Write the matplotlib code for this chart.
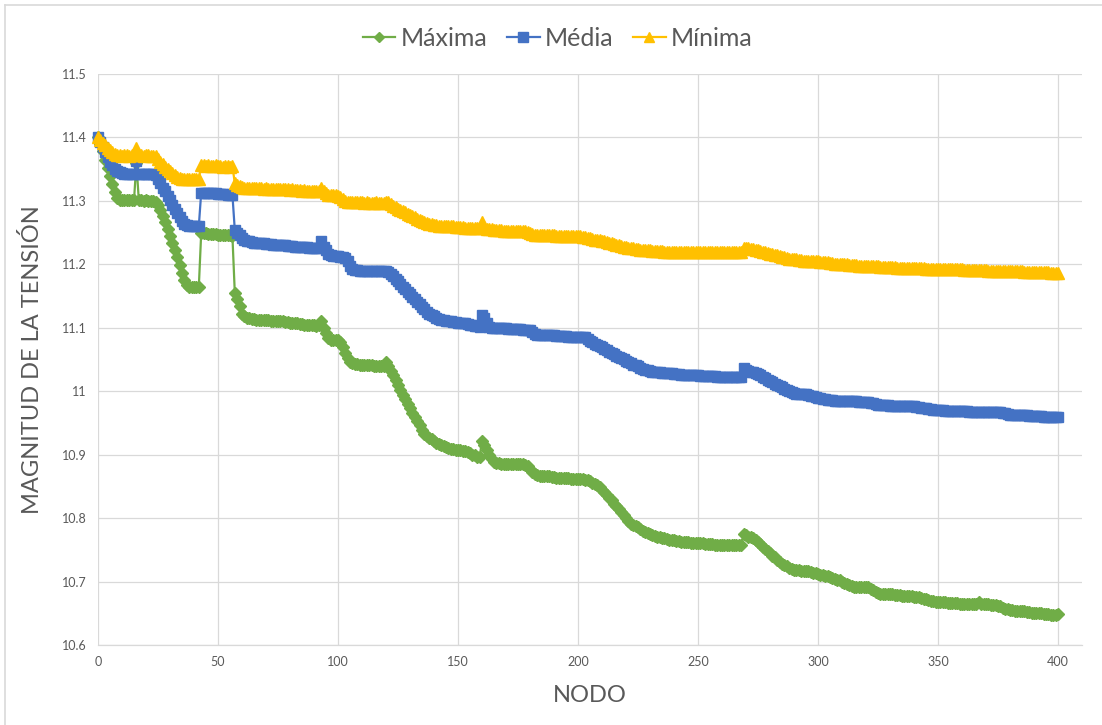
import matplotlib
matplotlib.use("Agg")
import matplotlib.pyplot as plt
from matplotlib.lines import Line2D

# ---------------- data (one value per node 0..400) -------------
nodes = list(range(0, 401))

minima = [
    11.400, 11.396, 11.392, 11.388, 11.384, 11.380, 11.377, 11.374, 11.372, 11.372,
    11.371, 11.372, 11.372, 11.371, 11.372, 11.372, 11.383, 11.372, 11.372, 11.371,
    11.372, 11.372, 11.371, 11.371, 11.370, 11.366, 11.362, 11.358, 11.354, 11.350,
    11.347, 11.344, 11.341, 11.338, 11.336, 11.335, 11.335, 11.334, 11.335, 11.335,
    11.334, 11.335, 11.335, 11.356, 11.356, 11.355, 11.356, 11.355, 11.355, 11.356,
    11.355, 11.355, 11.354, 11.355, 11.355, 11.354, 11.355, 11.328, 11.325, 11.323,
    11.322, 11.321, 11.321, 11.321, 11.320, 11.321, 11.320, 11.320, 11.320, 11.319,
    11.320, 11.319, 11.319, 11.319, 11.318, 11.319, 11.318, 11.318, 11.318, 11.318,
    11.317, 11.318, 11.317, 11.317, 11.317, 11.316, 11.317, 11.316, 11.316, 11.316,
    11.316, 11.315, 11.316, 11.320, 11.315, 11.312, 11.310, 11.309, 11.309, 11.309,
    11.308, 11.306, 11.303, 11.300, 11.299, 11.299, 11.298, 11.299, 11.298, 11.298,
    11.298, 11.297, 11.298, 11.297, 11.297, 11.297, 11.298, 11.297, 11.297, 11.297,
    11.298, 11.299, 11.295, 11.292, 11.290, 11.288, 11.286, 11.284, 11.282, 11.280,
    11.278, 11.276, 11.274, 11.272, 11.270, 11.268, 11.266, 11.265, 11.264, 11.263,
    11.262, 11.262, 11.261, 11.261, 11.261, 11.260, 11.260, 11.260, 11.260, 11.259,
    11.259, 11.259, 11.259, 11.258, 11.258, 11.258, 11.258, 11.258, 11.257, 11.257,
    11.266, 11.258, 11.256, 11.255, 11.255, 11.254, 11.254, 11.254, 11.254, 11.253,
    11.253, 11.253, 11.253, 11.253, 11.253, 11.252, 11.252, 11.252, 11.252, 11.251,
    11.250, 11.248, 11.247, 11.247, 11.247, 11.246, 11.246, 11.246, 11.246, 11.246,
    11.246, 11.245, 11.245, 11.245, 11.245, 11.245, 11.245, 11.245, 11.244, 11.244,
    11.244, 11.244, 11.243, 11.243, 11.242, 11.241, 11.240, 11.239, 11.238, 11.238,
    11.237, 11.236, 11.235, 11.234, 11.233, 11.232, 11.231, 11.230, 11.229, 11.228,
    11.227, 11.226, 11.226, 11.225, 11.224, 11.224, 11.223, 11.223, 11.222, 11.222,
    11.222, 11.221, 11.221, 11.221, 11.221, 11.221, 11.220, 11.220, 11.220, 11.220,
    11.220, 11.220, 11.220, 11.220, 11.220, 11.220, 11.219, 11.220, 11.219, 11.219,
    11.219, 11.219, 11.219, 11.219, 11.219, 11.219, 11.219, 11.219, 11.219, 11.219,
    11.219, 11.219, 11.219, 11.219, 11.219, 11.219, 11.219, 11.219, 11.219, 11.226,
    11.225, 11.225, 11.224, 11.224, 11.223, 11.222, 11.221, 11.220, 11.219, 11.218,
    11.217, 11.216, 11.215, 11.214, 11.213, 11.212, 11.211, 11.210, 11.209, 11.209,
    11.208, 11.208, 11.207, 11.207, 11.206, 11.206, 11.206, 11.205, 11.205, 11.205,
    11.205, 11.204, 11.204, 11.203, 11.203, 11.202, 11.202, 11.201, 11.201, 11.201,
    11.200, 11.200, 11.200, 11.199, 11.199, 11.199, 11.199, 11.198, 11.198, 11.198,
    11.198, 11.198, 11.197, 11.197, 11.197, 11.197, 11.196, 11.196, 11.196, 11.196,
    11.196, 11.196, 11.196, 11.195, 11.195, 11.195, 11.195, 11.195, 11.195, 11.194,
    11.194, 11.194, 11.194, 11.194, 11.194, 11.193, 11.193, 11.193, 11.193, 11.193,
    11.193, 11.193, 11.192, 11.192, 11.192, 11.192, 11.192, 11.192, 11.192, 11.192,
    11.192, 11.191, 11.191, 11.191, 11.191, 11.191, 11.191, 11.191, 11.191, 11.191,
    11.191, 11.190, 11.190, 11.190, 11.190, 11.190, 11.190, 11.190, 11.189, 11.189,
    11.189, 11.189, 11.189, 11.189, 11.189, 11.189, 11.188, 11.188, 11.188, 11.188,
    11.188, 11.188, 11.188, 11.188, 11.188, 11.188, 11.188, 11.187, 11.187, 11.187,
    11.187,
]

media = [
    11.400, 11.393, 11.385, 11.377, 11.369, 11.362, 11.356, 11.351, 11.347, 11.345,
    11.344, 11.343, 11.343, 11.343, 11.342, 11.343, 11.363, 11.343, 11.343, 11.342,
    11.343, 11.342, 11.342, 11.342, 11.341, 11.335, 11.328, 11.321, 11.315, 11.308,
    11.301, 11.294, 11.288, 11.281, 11.275, 11.268, 11.263, 11.262, 11.261, 11.261,
    11.261, 11.260, 11.260, 11.313, 11.313, 11.312, 11.312, 11.312, 11.312, 11.312,
    11.311, 11.311, 11.311, 11.311, 11.310, 11.310, 11.310, 11.254, 11.250, 11.246,
    11.242, 11.239, 11.237, 11.236, 11.235, 11.234, 11.234, 11.233, 11.233, 11.233,
    11.232, 11.232, 11.232, 11.231, 11.231, 11.231, 11.230, 11.230, 11.230, 11.229,
    11.229, 11.229, 11.228, 11.228, 11.228, 11.227, 11.227, 11.227, 11.226, 11.226,
    11.226, 11.225, 11.226, 11.236, 11.228, 11.222, 11.217, 11.214, 11.213, 11.213,
    11.213, 11.212, 11.212, 11.210, 11.205, 11.198, 11.193, 11.191, 11.191, 11.190,
    11.190, 11.190, 11.190, 11.189, 11.189, 11.190, 11.189, 11.189, 11.189, 11.189,
    11.190, 11.188, 11.185, 11.181, 11.177, 11.173, 11.169, 11.165, 11.161, 11.157,
    11.153, 11.149, 11.145, 11.141, 11.137, 11.133, 11.129, 11.125, 11.122, 11.120,
    11.118, 11.116, 11.114, 11.113, 11.112, 11.111, 11.110, 11.110, 11.109, 11.109,
    11.108, 11.108, 11.107, 11.107, 11.106, 11.105, 11.104, 11.103, 11.103, 11.102,
    11.120, 11.115, 11.108, 11.102, 11.100, 11.100, 11.099, 11.099, 11.099, 11.099,
    11.099, 11.098, 11.098, 11.098, 11.098, 11.098, 11.098, 11.097, 11.097, 11.097,
    11.096, 11.093, 11.090, 11.089, 11.089, 11.089, 11.088, 11.088, 11.088, 11.088,
    11.088, 11.087, 11.087, 11.087, 11.087, 11.087, 11.086, 11.086, 11.086, 11.086,
    11.086, 11.086, 11.086, 11.085, 11.082, 11.079, 11.077, 11.075, 11.073, 11.071,
    11.069, 11.067, 11.065, 11.062, 11.060, 11.058, 11.056, 11.054, 11.052, 11.050,
    11.048, 11.046, 11.044, 11.042, 11.041, 11.039, 11.037, 11.035, 11.034, 11.033,
    11.032, 11.031, 11.031, 11.030, 11.030, 11.029, 11.029, 11.028, 11.028, 11.028,
    11.027, 11.027, 11.027, 11.026, 11.026, 11.026, 11.026, 11.025, 11.025, 11.025,
    11.025, 11.024, 11.024, 11.024, 11.024, 11.024, 11.024, 11.024, 11.023, 11.023,
    11.023, 11.023, 11.023, 11.023, 11.023, 11.023, 11.023, 11.023, 11.023, 11.036,
    11.033, 11.032, 11.031, 11.030, 11.029, 11.027, 11.025, 11.023, 11.021, 11.018,
    11.016, 11.014, 11.012, 11.010, 11.008, 11.006, 11.004, 11.002, 11.000, 10.998,
    10.997, 10.996, 10.996, 10.996, 10.995, 10.995, 10.994, 10.993, 10.992, 10.991,
    10.990, 10.989, 10.988, 10.987, 10.986, 10.986, 10.986, 10.985, 10.985, 10.985,
    10.984, 10.984, 10.984, 10.984, 10.984, 10.984, 10.984, 10.983, 10.983, 10.983,
    10.983, 10.983, 10.982, 10.981, 10.980, 10.979, 10.978, 10.978, 10.978, 10.978,
    10.977, 10.977, 10.977, 10.977, 10.977, 10.977, 10.976, 10.976, 10.976, 10.976,
    10.976, 10.975, 10.975, 10.974, 10.974, 10.973, 10.972, 10.972, 10.971, 10.971,
    10.970, 10.970, 10.970, 10.969, 10.969, 10.969, 10.969, 10.969, 10.969, 10.969,
    10.969, 10.969, 10.969, 10.968, 10.968, 10.968, 10.968, 10.968, 10.968, 10.968,
    10.968, 10.968, 10.968, 10.968, 10.968, 10.967, 10.967, 10.966, 10.965, 10.964,
    10.963, 10.963, 10.963, 10.962, 10.962, 10.962, 10.962, 10.962, 10.961, 10.961,
    10.961, 10.961, 10.961, 10.961, 10.960, 10.960, 10.960, 10.960, 10.960, 10.960,
    10.959,
]

maxima = [
    11.400, 11.390, 11.378, 11.365, 11.352, 11.339, 11.326, 11.314, 11.305, 11.302,
    11.302, 11.301, 11.301, 11.302, 11.301, 11.301, 11.360, 11.301, 11.301, 11.300,
    11.301, 11.300, 11.300, 11.300, 11.299, 11.294, 11.285, 11.276, 11.266, 11.256,
    11.245, 11.234, 11.223, 11.211, 11.199, 11.187, 11.175, 11.168, 11.165, 11.165,
    11.165, 11.164, 11.164, 11.249, 11.249, 11.249, 11.248, 11.248, 11.248, 11.248,
    11.247, 11.247, 11.247, 11.246, 11.246, 11.246, 11.245, 11.155, 11.145, 11.135,
    11.122, 11.118, 11.116, 11.115, 11.114, 11.114, 11.113, 11.113, 11.113, 11.112,
    11.112, 11.112, 11.111, 11.111, 11.111, 11.110, 11.110, 11.110, 11.109, 11.109,
    11.108, 11.108, 11.107, 11.107, 11.106, 11.106, 11.105, 11.105, 11.104, 11.104,
    11.104, 11.103, 11.104, 11.110, 11.100, 11.092, 11.084, 11.081, 11.081, 11.081,
    11.080, 11.078, 11.070, 11.060, 11.052, 11.046, 11.044, 11.043, 11.043, 11.042,
    11.042, 11.042, 11.041, 11.041, 11.041, 11.040, 11.040, 11.040, 11.040, 11.040,
    11.046, 11.040, 11.032, 11.025, 11.018, 11.010, 11.002, 10.994, 10.987, 10.980,
    10.973, 10.966, 10.960, 10.953, 10.946, 10.939, 10.933, 10.929, 10.926, 10.924,
    10.921, 10.919, 10.917, 10.915, 10.913, 10.912, 10.910, 10.909, 10.909, 10.908,
    10.908, 10.907, 10.906, 10.905, 10.904, 10.902, 10.900, 10.899, 10.897, 10.896,
    10.922, 10.916, 10.908, 10.900, 10.893, 10.889, 10.887, 10.887, 10.886, 10.886,
    10.886, 10.886, 10.886, 10.886, 10.886, 10.886, 10.886, 10.885, 10.884, 10.882,
    10.878, 10.873, 10.869, 10.868, 10.867, 10.867, 10.866, 10.866, 10.866, 10.865,
    10.865, 10.864, 10.864, 10.864, 10.863, 10.863, 10.863, 10.862, 10.862, 10.862,
    10.862, 10.861, 10.861, 10.860, 10.860, 10.858, 10.856, 10.854, 10.852, 10.849,
    10.845, 10.841, 10.836, 10.832, 10.828, 10.823, 10.819, 10.814, 10.810, 10.805,
    10.800, 10.795, 10.791, 10.789, 10.788, 10.786, 10.783, 10.780, 10.778, 10.776,
    10.775, 10.774, 10.772, 10.771, 10.770, 10.769, 10.768, 10.767, 10.766, 10.766,
    10.765, 10.764, 10.764, 10.763, 10.763, 10.762, 10.762, 10.761, 10.761, 10.761,
    10.760, 10.760, 10.760, 10.759, 10.759, 10.759, 10.759, 10.758, 10.758, 10.758,
    10.758, 10.758, 10.758, 10.757, 10.757, 10.757, 10.757, 10.757, 10.757, 10.775,
    10.773, 10.771, 10.770, 10.769, 10.766, 10.762, 10.759, 10.755, 10.752, 10.748,
    10.745, 10.741, 10.738, 10.734, 10.731, 10.728, 10.726, 10.724, 10.722, 10.720,
    10.719, 10.718, 10.718, 10.717, 10.717, 10.716, 10.716, 10.715, 10.714, 10.713,
    10.712, 10.711, 10.710, 10.709, 10.708, 10.707, 10.705, 10.704, 10.703, 10.702,
    10.700, 10.698, 10.696, 10.694, 10.693, 10.692, 10.692, 10.692, 10.692, 10.692,
    10.692, 10.691, 10.689, 10.686, 10.684, 10.682, 10.681, 10.681, 10.681, 10.680,
    10.680, 10.680, 10.679, 10.679, 10.679, 10.678, 10.678, 10.678, 10.677, 10.677,
    10.676, 10.676, 10.675, 10.674, 10.673, 10.672, 10.671, 10.670, 10.669, 10.668,
    10.668, 10.667, 10.667, 10.667, 10.666, 10.666, 10.666, 10.666, 10.666, 10.665,
    10.665, 10.665, 10.665, 10.665, 10.665, 10.665, 10.665, 10.667, 10.665, 10.664,
    10.664, 10.664, 10.663, 10.663, 10.663, 10.662, 10.661, 10.659, 10.657, 10.656,
    10.655, 10.655, 10.654, 10.654, 10.654, 10.653, 10.653, 10.652, 10.652, 10.651,
    10.651, 10.650, 10.650, 10.650, 10.649, 10.649, 10.649, 10.648, 10.648, 10.648,
    10.649,
]

series_names = ["Máxima", "Média", "Mínima"]
x_ticks = [0, 50, 100, 150, 200, 250, 300, 350, 400]
y_ticks = [10.6, 10.7, 10.8, 10.9, 11.0, 11.1, 11.2, 11.3, 11.4, 11.5]
y_tick_labels = ["10.6", "10.7", "10.8", "10.9", "11", "11.1", "11.2", "11.3", "11.4", "11.5"]
x_title = "NODO"
y_title = "MAGNITUD DE LA TENSIÓN"

# ---------------- styling ----------------
plt.rcParams["font.family"] = ["Lato", "DejaVu Sans"]
GREEN, BLUE, YELLOW = "#70AD47", "#4472C4", "#FFC000"
GRID = "#D9D9D9"
TXT = "#595959"

fig = plt.figure(figsize=(11.02, 7.25), dpi=100)
ax = fig.add_axes([98 / 1102, 1 - 645 / 725, (1082 - 98) / 1102, (645 - 74) / 725])

ax.plot(nodes, maxima, color=GREEN, lw=1.6, marker="D", ms=6.0, mec=GREEN, mfc=GREEN,
        label=series_names[0], clip_on=False, zorder=3)
ax.plot(nodes, media, color=BLUE, lw=1.6, marker="s", ms=7.5, mec=BLUE, mfc=BLUE,
        label=series_names[1], clip_on=False, zorder=4)
ax.plot(nodes, minima, color=YELLOW, lw=1.6, marker="^", ms=8.0, mec=YELLOW, mfc=YELLOW,
        label=series_names[2], clip_on=False, zorder=5)

ax.set_xlim(0, 410)
ax.set_ylim(10.6, 11.5)
ax.set_xticks(x_ticks)
ax.set_xticklabels([str(t) for t in x_ticks])
ax.set_yticks(y_ticks)
ax.set_yticklabels(y_tick_labels)
ax.tick_params(length=0, labelsize=9, colors=TXT, pad=8)
ax.grid(True, color=GRID, lw=0.9)
ax.set_axisbelow(True)
for s in ["top", "right", "left"]:
    ax.spines[s].set_visible(False)
ax.spines["bottom"].set_color(GRID)
ax.spines["bottom"].set_linewidth(0.9)

ax.set_xlabel(x_title, fontsize=17, color=TXT, labelpad=12)
ax.set_ylabel(y_title, fontsize=17, color=TXT, labelpad=14)

handles, labels = ax.get_legend_handles_labels()
fig.legend(handles, labels, loc="center", bbox_to_anchor=(0.506, 0.947), ncol=3,
           frameon=False, fontsize=18, handlelength=1.3, handletextpad=0.2,
           columnspacing=0.8, labelcolor=TXT, markerscale=0.9)

# chart-area border (visible on top and left)
fig.add_artist(Line2D([5 / 1102, 1], [1 - 5 / 725, 1 - 5 / 725], color=GRID, lw=1.2,
                      transform=fig.transFigure))
fig.add_artist(Line2D([5 / 1102, 5 / 1102], [0, 1 - 5 / 725], color=GRID, lw=1.2,
                      transform=fig.transFigure))

fig.savefig("out.png", dpi=100, facecolor="white")
